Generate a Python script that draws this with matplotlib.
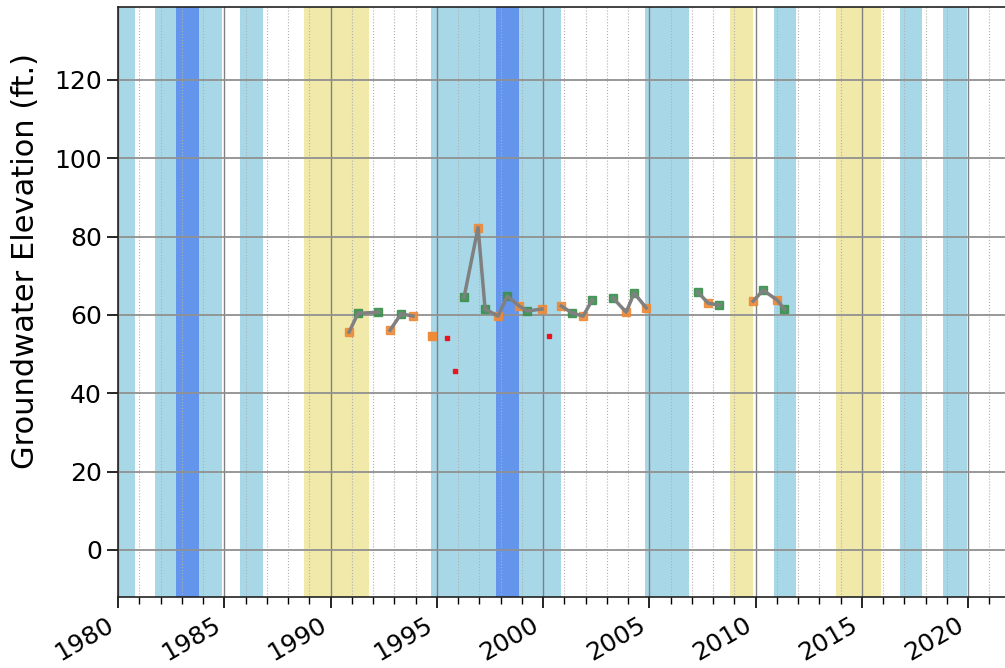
import numpy as np
import matplotlib
matplotlib.use("Agg")
import matplotlib.pyplot as plt
from matplotlib.ticker import MultipleLocator

# ---- data ----
# connected measurement segments: (decimal year, elevation ft, season: 'g'=spring, 'o'=fall)
seg_dates = [
    [1990.87, 1991.29, 1992.24],
    [1992.80, 1993.32, 1993.88],
    [1996.28, 1996.94, 1997.27, 1997.88, 1998.31, 1998.87, 1999.25, 1999.95],
    [2000.85, 2001.36, 2001.88, 2002.31],
    [2003.29, 2003.91, 2004.28, 2004.85],
    [2007.29, 2007.76, 2008.28],
    [2009.88, 2010.35, 2011.01, 2011.34],
]
seg_values = [
    [55.6, 60.4, 60.7],
    [56.1, 60.3, 59.7],
    [64.5, 82.3, 61.5, 59.7, 64.8, 62.3, 61.0, 61.5],
    [62.3, 60.5, 59.7, 63.8],
    [64.3, 60.7, 65.6, 61.8],
    [65.8, 63.0, 62.5],
    [63.5, 66.3, 63.8, 61.5],
]
seg_season = [
    ['o', 'g', 'g'],
    ['o', 'g', 'o'],
    ['g', 'o', 'g', 'o', 'g', 'o', 'g', 'o'],
    ['o', 'g', 'o', 'g'],
    ['g', 'o', 'g', 'o'],
    ['g', 'o', 'g'],
    ['o', 'g', 'o', 'g'],
]
single_fall_dates = [1994.78]
single_fall_values = [54.6]
questionable_dates = [1995.48, 1995.86, 2000.28]
questionable_values = [54.1, 45.7, 54.6]

# water-year type bands (start, end)
wet_start = [1979.75, 1981.72, 1983.80, 1985.75, 1994.73, 1998.85, 2004.77, 2010.85, 2016.78, 2018.80]
wet_end = [1980.78, 1982.75, 1984.88, 1986.83, 1997.78, 2000.85, 2006.88, 2011.92, 2017.83, 2019.93]
verywet_start = [1982.75, 1997.78]
verywet_end = [1983.80, 1998.85]
dry_start = [1988.75, 2008.77, 2013.77]
dry_end = [1991.80, 2009.88, 2015.90]

yticks = [0, 20, 40, 60, 80, 100, 120]
xticks = [1980, 1985, 1990, 1995, 2000, 2005, 2010, 2015, 2020]

# ---- plot ----
W, H = 1005, 668
fig = plt.figure(figsize=(W / 100, H / 100), dpi=100)
ax = fig.add_axes([118 / W, 71 / H, (1015 - 118) / W, (597 - 7) / H])

for s, e in zip(wet_start, wet_end):
    ax.axvspan(s, e, color='#a8d8e8', lw=0, zorder=0.5)
for s, e in zip(verywet_start, verywet_end):
    ax.axvspan(s, e, color='#6495ed', lw=0, zorder=0.5)
for s, e in zip(dry_start, dry_end):
    ax.axvspan(s, e, color='#f0e9aa', lw=0, zorder=0.5)

col = {'g': '#3d8f4f', 'o': '#ee8a38'}
for d, v, s in zip(seg_dates, seg_values, seg_season):
    ax.plot(d, v, color='#808080', lw=2.5, zorder=3)
    for dd, vv, ss in zip(d, v, s):
        ax.plot(dd, vv, marker='s', ms=5.5, color=col[ss], mec=col[ss], ls='none', zorder=2.8, alpha=0.9)
ax.plot(single_fall_dates, single_fall_values, marker='s', ms=5.5, color=col['o'], ls='none', zorder=2.8)
ax.plot(questionable_dates, questionable_values, marker='s', ms=3.5, color='#e8141e', ls='none', zorder=2.8)

ax.set_xlim(1980, 2022.2)
ax.set_ylim(-12, 138.6)
ax.set_xticks(xticks)
ax.set_xticklabels([str(x) for x in xticks], rotation=30, ha='right', fontsize=18)
ax.xaxis.set_minor_locator(MultipleLocator(1))
ax.set_yticks(yticks)
ax.set_yticklabels([str(y) for y in yticks], fontsize=18)
ax.tick_params(axis='both', which='major', length=8, width=1.2, direction='out')
ax.tick_params(axis='x', which='minor', length=5, width=1.0, direction='out')

ax.grid(True, axis='x', which='major', color='#808080', lw=1.0, ls='-', zorder=1)
ax.grid(True, axis='x', which='minor', color='#b0b0b0', lw=0.8, ls=':', zorder=1)
ax.grid(True, axis='y', which='major', color='#909090', lw=1.3, ls='-', zorder=1)

ax.set_ylabel('Groundwater Elevation (ft.)', fontsize=22)
ax.yaxis.set_label_coords(-0.087, 0.57)

for sp in ['left', 'top', 'bottom']:
    ax.spines[sp].set_color('#222222')
    ax.spines[sp].set_linewidth(1.2)
ax.spines['right'].set_visible(False)

fig.savefig('out.png', dpi=100)
